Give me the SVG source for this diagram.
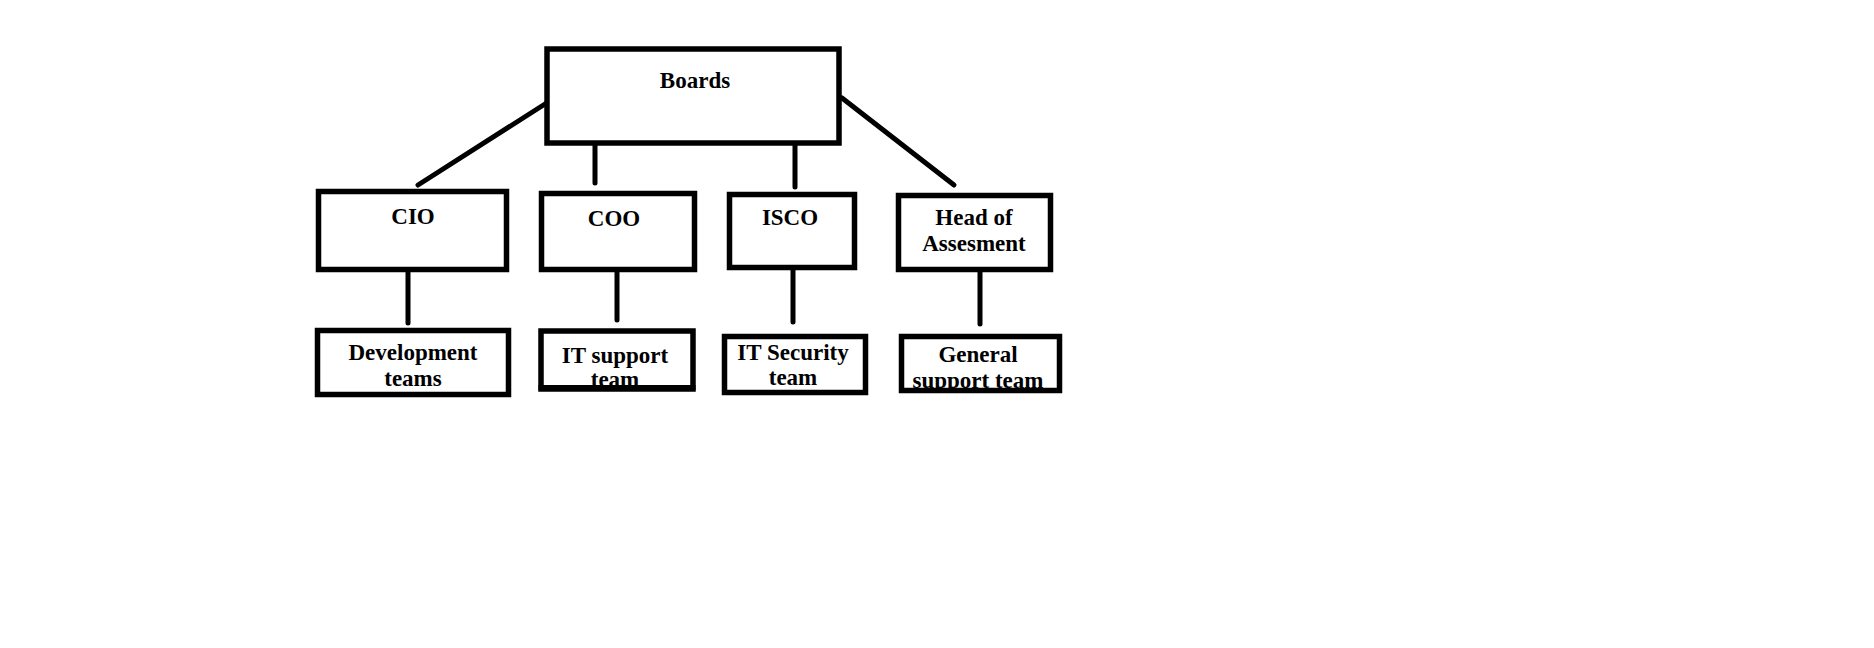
<svg xmlns="http://www.w3.org/2000/svg" width="1874" height="648" viewBox="0 0 1874 648">
<style>
.box{fill:#fff;stroke:#000;stroke-width:5.5}
.t{font-family:"Liberation Serif","Times New Roman",serif;font-weight:bold;font-size:23px;fill:#000;text-anchor:middle}
.c{stroke:#000;stroke-width:5;stroke-linecap:round;fill:none}
</style>
<defs>
<clipPath id="clipIT"><rect x="541" y="330" width="152" height="55"/></clipPath>
<clipPath id="clipGen"><rect x="901" y="336" width="159" height="52"/></clipPath>
</defs>
<rect width="1874" height="648" fill="#fff"/>
<g id="connectors">
<line class="c" x1="418" y1="185" x2="545" y2="104"/>
<line class="c" x1="595" y1="142" x2="595" y2="183"/>
<line class="c" x1="795" y1="145" x2="795" y2="187"/>
<line class="c" x1="842" y1="98" x2="954" y2="185"/>
<line class="c" x1="408" y1="271" x2="408" y2="323"/>
<line class="c" x1="617" y1="271" x2="617" y2="320"/>
<line class="c" x1="793" y1="270" x2="793" y2="322"/>
<line class="c" x1="980" y1="272" x2="980" y2="324"/>
</g>
<g id="boards">
<rect class="box" x="547" y="49" width="292" height="94"/>
<text class="t" x="695" y="88">Boards</text>
</g>
<g id="cio">
<rect class="box" x="318.5" y="191.5" width="188" height="78"/>
<text class="t" x="413" y="224">CIO</text>
</g>
<g id="coo">
<rect class="box" x="541.5" y="193.5" width="153" height="76"/>
<text class="t" x="614" y="226">COO</text>
</g>
<g id="isco">
<rect class="box" x="729.5" y="194.5" width="125" height="73"/>
<text class="t" x="790" y="225">ISCO</text>
</g>
<g id="head">
<rect class="box" x="898.5" y="195.5" width="152" height="74"/>
<text class="t" x="974" y="225">Head of</text>
<text class="t" x="974" y="251">Assesment</text>
</g>
<g id="dev">
<rect class="box" x="317.5" y="330.5" width="191" height="64"/>
<text class="t" x="413" y="360">Development</text>
<text class="t" x="413" y="386">teams</text>
</g>
<g id="itsupport">
<rect class="box" x="541" y="331" width="152" height="58"/>
<text class="t" x="615" y="363">IT support</text>
<text class="t" x="615" y="387" clip-path="url(#clipIT)">team</text>
<rect x="538.5" y="385" width="157" height="5" fill="#000"/>
</g>
<g id="itsecurity">
<rect class="box" x="724.5" y="336.5" width="141" height="56"/>
<text class="t" x="793" y="360">IT Security</text>
<text class="t" x="793" y="385">team</text>
</g>
<g id="general">
<rect class="box" x="901.5" y="336.5" width="158" height="54"/>
<text class="t" x="978" y="362">General</text>
<text class="t" x="978" y="388" clip-path="url(#clipGen)">support team</text>
</g>
</svg>
